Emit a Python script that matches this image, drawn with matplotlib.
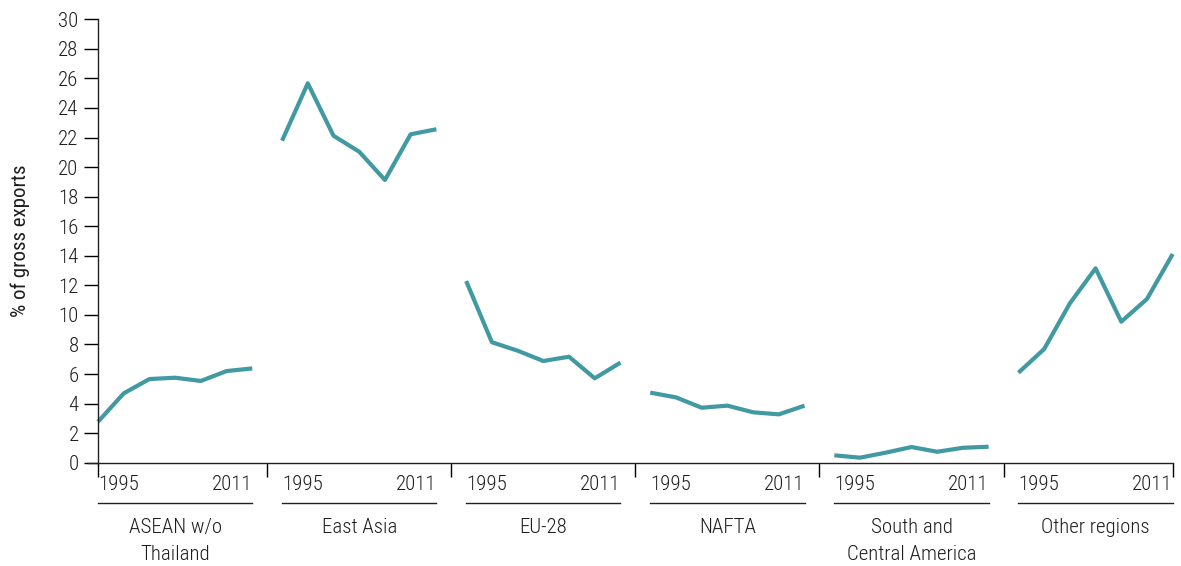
import matplotlib
matplotlib.use("Agg")
import matplotlib.pyplot as plt
import matplotlib.transforms as mtransforms
from matplotlib import font_manager

# Regional shares of gross exports, 1995-2011 (seven observations per region)
regions = ["ASEAN w/o\nThailand", "East Asia", "EU-28", "NAFTA",
           "South and\nCentral America", "Other regions"]
first_year = "1995"
last_year = "2011"

asean = [2.77, 4.69, 5.66, 5.75, 5.53, 6.20, 6.38]
east_asia = [21.79, 25.67, 22.12, 21.04, 19.13, 22.22, 22.56]
eu28 = [12.29, 8.15, 7.58, 6.88, 7.17, 5.71, 6.77]
nafta = [4.74, 4.42, 3.72, 3.86, 3.41, 3.27, 3.86]
south_central_america = [0.50, 0.34, 0.68, 1.06, 0.74, 1.01, 1.08]
other_regions = [6.09, 7.69, 10.78, 13.15, 9.54, 11.08, 14.12]
series = [asean, east_asia, eu28, nafta, south_central_america, other_regions]

y_ticks = list(range(0, 31, 2))

# pick a narrow sans face when one is installed
available = {f.name for f in font_manager.fontManager.ttflist}
family = [f for f in ["Liberation Sans Narrow", "Roboto Condensed", "Liberation Sans", "DejaVu Sans"]
          if f in available] or ["DejaVu Sans"]
plt.rcParams["font.family"] = family
plt.rcParams["font.weight"] = "light"

W, H = 1181, 566
fig = plt.figure(figsize=(W / 100, H / 100), dpi=100)
left_px, right_px, top_px, bottom_px = 98, 1172.7, 19.3, 462.7
ax = fig.add_axes([left_px / W, 1 - bottom_px / H,
                   (right_px - left_px) / W, (bottom_px - top_px) / H])

line_color = "#4199a1"
text_color = "#1e1e1e"
fs = 15
n = len(asean)
period = 7.16  # x-distance between the starts of consecutive regions
for g, vals in enumerate(series):
    xs = [g * period + i for i in range(len(vals))]
    ax.plot(xs, vals, color=line_color, lw=3.0, solid_capstyle="butt",
            solid_joinstyle="round", clip_on=False)

xmax = (len(series) - 1) * period + (n - 1)
ax.set_xlim(0, xmax)
ax.set_ylim(0, 30)
ax.set_yticks(y_ticks)
ax.tick_params(axis="y", direction="out", length=10, width=1, labelsize=fs, pad=4,
               labelcolor=text_color)

sep = [0] + [g * period + (n - 1) + (period - (n - 1)) / 2 for g in range(len(series) - 1)] + [xmax]
ax.set_xticks(sep)
ax.set_xticklabels([])
ax.tick_params(axis="x", direction="out", length=10, width=1)

for side in ["top", "right"]:
    ax.spines[side].set_visible(False)
for side in ["left", "bottom"]:
    ax.spines[side].set_linewidth(1.0)
    ax.spines[side].set_color("#222222")
ax.spines["bottom"].set_bounds(-10 / 25.7, xmax)

ax.set_ylabel("% of gross exports", fontsize=fs, labelpad=20, color=text_color)

ax_h = bottom_px - top_px


def ypix(p):
    return -(p - bottom_px) / ax_h


trans = mtransforms.blended_transform_factory(ax.transData, ax.transAxes)
for g, name in enumerate(regions):
    x0 = g * period
    x1 = g * period + (n - 1)
    ax.text(x0, ypix(485), first_year, transform=trans, ha="left", va="center",
            fontsize=fs, color=text_color)
    ax.text(x1, ypix(485), last_year, transform=trans, ha="right", va="center",
            fontsize=fs, color=text_color)
    ax.plot([x0, x1], [ypix(503), ypix(503)], transform=trans, color="#222222",
            lw=1.0, clip_on=False)
    ax.text((x0 + x1) / 2, ypix(518), name, transform=trans, ha="center", va="top",
            fontsize=fs, color=text_color, linespacing=1.5)

fig.savefig("out.png", dpi=100)
